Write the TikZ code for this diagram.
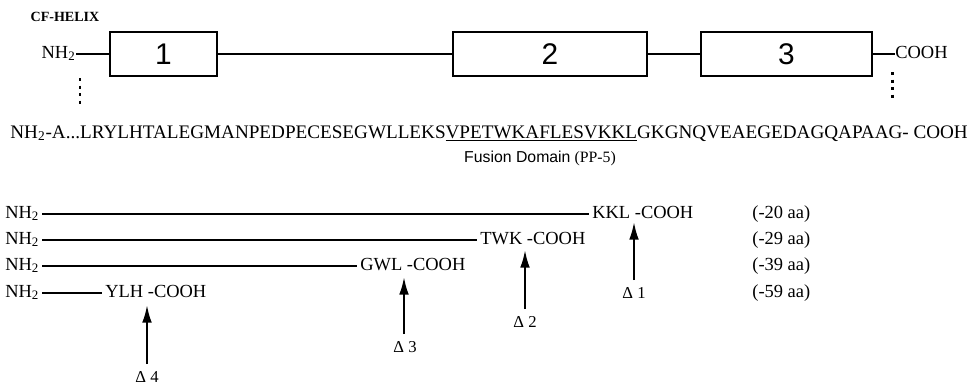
\documentclass[tikz,border=0pt]{standalone}
\usepackage{fontspec}
\setmainfont{Liberation Serif}
\newfontfamily\helvfont{Liberation Sans}
\usetikzlibrary{arrows.meta, positioning}

\begin{document}
\begin{tikzpicture}[
  x=0.02cm, y=-0.02cm,
  every node/.style={inner sep=0pt, font=\fontsize{10.5}{12}\selectfont},
  helixbox/.style={draw, line width=1.3pt, minimum height=0.88cm, font=\helvfont\fontsize{17}{20}\selectfont},
  helixline/.style={line width=1.2pt},
  dotline/.style={line width=1.7pt, dash pattern=on 1.7pt off 2.6pt},
  rowline/.style={line width=0.6pt, shorten <=1.5pt, shorten >=1.5pt},
  cutarrow/.style={->, line width=1.2pt, shorten <=4pt},
  >={Latex[length=10pt, width=5.5pt]}
]
  \useasboundingbox (0,0) rectangle (970,386);

  % --- CF-helix with its three helices ---
  \node[font=\bfseries\fontsize{8}{10}\selectfont] (title) at (65,17) {CF-HELIX};
  \node[anchor=base east] (nt) at (76,58) {NH\textsubscript{2}};
  \node[helixbox, minimum width=2.14cm] (b1) at (163.5,54) {1};
  \node[helixbox, minimum width=3.88cm] (b2) at (550,54) {2};
  \node[helixbox, minimum width=3.42cm] (b3) at (786.5,54) {3};
  \node[anchor=base west] (ct) at (895,58) {COOH};
  \draw[helixline] (nt.mid east) -- (nt.mid east -| b1.west);
  \draw[helixline] (b1) -- (b2);
  \draw[helixline] (b2) -- (b3);
  \draw[helixline] (b3.east) -- (b3.east -| ct.west);
  \coordinate (ld1) at (80,78);
  \coordinate (ld2) at (80,108);
  \coordinate (rd1) at (892,72);
  \coordinate (rd2) at (892,102);
  \draw[dotline] (ld1) -- (ld2);
  \draw[dotline] (rd1) -- (rd2);

  % --- Sequence ---
  \node[anchor=base west, font=\fontsize{10.9}{12}\selectfont] (seq) at (10,138)
    {NH\textsubscript{2}-A...LRYLHTALEGMANPEDPECESEGWLLEKS\underline{VPETWKAFLESVKKL}GKGNQVEAEGEDAGQAPAAG- COOH};
  \node[font=\fontsize{9}{10}\selectfont] (fd) at (540,158) {{\helvfont Fusion Domain} (PP-5)};

  % --- Truncated forms ---
  \node[anchor=base west] (n1) at (5,218) {NH\textsubscript{2}};
  \node[anchor=base west] (n2) at (5,244) {NH\textsubscript{2}};
  \node[anchor=base west] (n3) at (5,270) {NH\textsubscript{2}};
  \node[anchor=base west] (n4) at (5,297) {NH\textsubscript{2}};
  \node[anchor=base west] (c1) at (592,218) {KKL -COOH};
  \node[anchor=base west] (c2) at (480,244) {TWK -COOH};
  \node[anchor=base west] (c3) at (360,270) {GWL -COOH};
  \node[anchor=base west] (c4) at (105,297) {YLH -COOH};
  \foreach \i in {1,...,4}
    \draw[rowline] (n\i.mid east) -- (c\i.mid west);
  \node[anchor=base west] (d1) at (752,218) {(-20 aa)};
  \node[anchor=base west] (d2) at (752,244) {(-29 aa)};
  \node[anchor=base west] (d3) at (752,270) {(-39 aa)};
  \node[anchor=base west] (d4) at (752,297) {(-59 aa)};

  % --- Deletion sites ---
  \coordinate (t1) at (634,222);
  \coordinate (t2) at (525,250);
  \coordinate (t3) at (404,277);
  \coordinate (t4) at (147,305);
  \node[font=\fontsize{9.5}{11}\selectfont] (a1) at (634,293) {Δ 1};
  \node[font=\fontsize{9.5}{11}\selectfont] (a2) at (525,322) {Δ 2};
  \node[font=\fontsize{9.5}{11}\selectfont] (a3) at (405,347) {Δ 3};
  \node[font=\fontsize{9.5}{11}\selectfont] (a4) at (147,377) {Δ 4};
  \foreach \i in {1,...,4}
    \draw[cutarrow] (a\i.north -| t\i) -- (t\i);
\end{tikzpicture}
\end{document}
